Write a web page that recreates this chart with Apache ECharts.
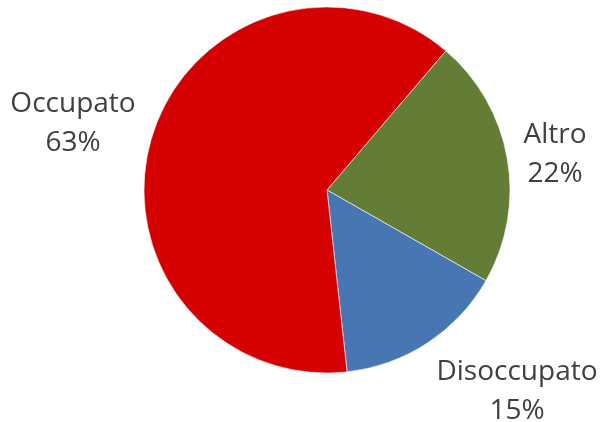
<!DOCTYPE html>
<html>
<head>
<meta charset="utf-8">
<script src="https://cdn.jsdelivr.net/npm/echarts@6/dist/echarts.min.js"></script>
<style>
  html, body { margin: 0; padding: 0; background: #fff; }
  #chart { width: 602px; height: 422px; }
</style>
</head>
<body>
<div id="chart"></div>
<script>
// Occupational status breakdown
const categories = ['Altro', 'Disoccupato', 'Occupato'];
const shares = [22, 15, 63];

const sliceColors = ['#637D37', '#4776B2', '#D50000'];
// label centres (px) for each slice, in category order
const labelSpots = [[555, 155], [517, 392], [73, 124]];

const chart = echarts.init(document.getElementById('chart'), null, { renderer: 'canvas' });

chart.setOption({
  animation: false,
  series: [{
    type: 'pie',
    center: [327, 190],
    radius: [0, 183],
    startAngle: 49.5,
    clockwise: true,
    data: categories.map((name, i) => ({
      name,
      value: shares[i],
      itemStyle: { color: sliceColors[i] }
    })),
    itemStyle: { borderColor: '#ffffff', borderWidth: 0.6 },
    label: {
      show: true,
      position: 'outside',
      alignTo: 'none',
      overflow: 'none',
      width: 200,
      formatter: p => p.name + '\n' + p.value + '%',
      fontFamily: 'Open Sans',
      fontSize: 28,
      lineHeight: 39,
      color: '#404040',
      align: 'center'
    },
    labelLine: { show: false },
    labelLayout: params => {
      const s = labelSpots[params.dataIndex];
      return { x: s[0], y: s[1], align: 'center', verticalAlign: 'middle', hideOverlap: false };
    },
    emphasis: { disabled: true }
  }]
});
</script>
</body>
</html>
